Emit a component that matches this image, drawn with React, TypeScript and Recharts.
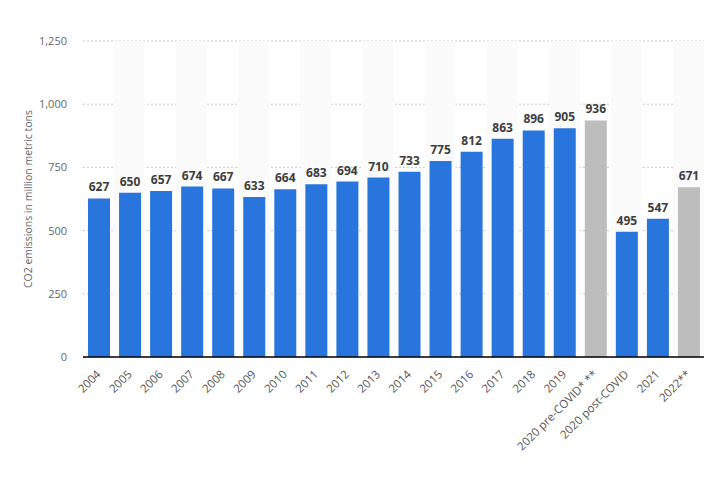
import React from 'react'
import {
  BarChart,
  Bar,
  XAxis,
  YAxis,
  CartesianGrid,
  Cell,
  LabelList,
  ReferenceArea,
  Label,
} from 'recharts'

const categories = [
  '2004', '2005', '2006', '2007', '2008', '2009', '2010', '2011', '2012', '2013',
  '2014', '2015', '2016', '2017', '2018', '2019', '2020 pre-COVID* **', '2020 post-COVID', '2021', '2022**',
]
const emissions = [627, 650, 657, 674, 667, 633, 664, 683, 694, 710, 733, 775, 812, 863, 896, 905, 936, 495, 547, 671]
const projected = ['2020 pre-COVID* **', '2022**']
const yTicks = [0, 250, 500, 750, 1000, 1250]

const BLUE = '#2876dd'
const GREY = '#bdbdbd'
const FONT = '"Open Sans", "Liberation Sans", sans-serif'

const data = categories.map((name, i) => ({ name, value: emissions[i] }))

function XTick(props: any) {
  const { x, y, payload } = props
  const tx = x + 3
  const ty = y + 10
  return (
    <text
      x={tx}
      y={ty}
      textAnchor="end"
      transform={`rotate(-45, ${tx}, ${ty})`}
      fontSize={11.5}
      fill="#555"
      fontFamily={FONT}
    >
      {payload.value}
    </text>
  )
}

export default function App() {
  return (
    <div style={{ position: 'absolute', left: 0, top: 0, width: 718, height: 504, background: '#fff' }}>
      <BarChart
        width={718}
        height={504}
        data={data}
        margin={{ top: 41, right: 14, left: 0, bottom: 0 }}
        barSize={22}
      >
        {categories.map((c, i) =>
          i % 2 === 1 ? (
            <ReferenceArea key={c} x1={c} x2={c} y1={0} y2={1250} fill="#fbfbfb" fillOpacity={1} stroke="none" ifOverflow="visible" />
          ) : null
        )}
        <CartesianGrid vertical={false} stroke="#c8c8c8" strokeDasharray="2 2" />
        <XAxis
          dataKey="name"
          interval={0}
          height={147}
          tickLine={false}
          axisLine={{ stroke: '#000', strokeWidth: 1.5 }}
          tick={<XTick />}
        />
        <YAxis
          width={83}
          domain={[0, 1250]}
          ticks={yTicks}
          axisLine={false}
          tickLine={false}
          tickMargin={10}
          tickFormatter={(v: number) => v.toLocaleString('en-US')}
          tick={{ fontSize: 11, fill: '#666', fontFamily: FONT }}
        >
          <Label
            value="CO2 emissions in million metric tons"
            angle={-90}
            position="insideLeft"
            offset={28}
            style={{ textAnchor: 'middle', fontSize: 10.5, fill: '#666', fontFamily: FONT }}
          />
        </YAxis>
        <Bar dataKey="value" isAnimationActive={false}>
          {data.map((d) => (
            <Cell key={d.name} fill={projected.includes(d.name) ? GREY : BLUE} />
          ))}
          <LabelList
            dataKey="value"
            position="top"
            offset={7}
            style={{ fontSize: 12, fontWeight: 700, fill: '#3d3d3d', fontFamily: FONT }}
          />
        </Bar>
      </BarChart>
    </div>
  )
}
